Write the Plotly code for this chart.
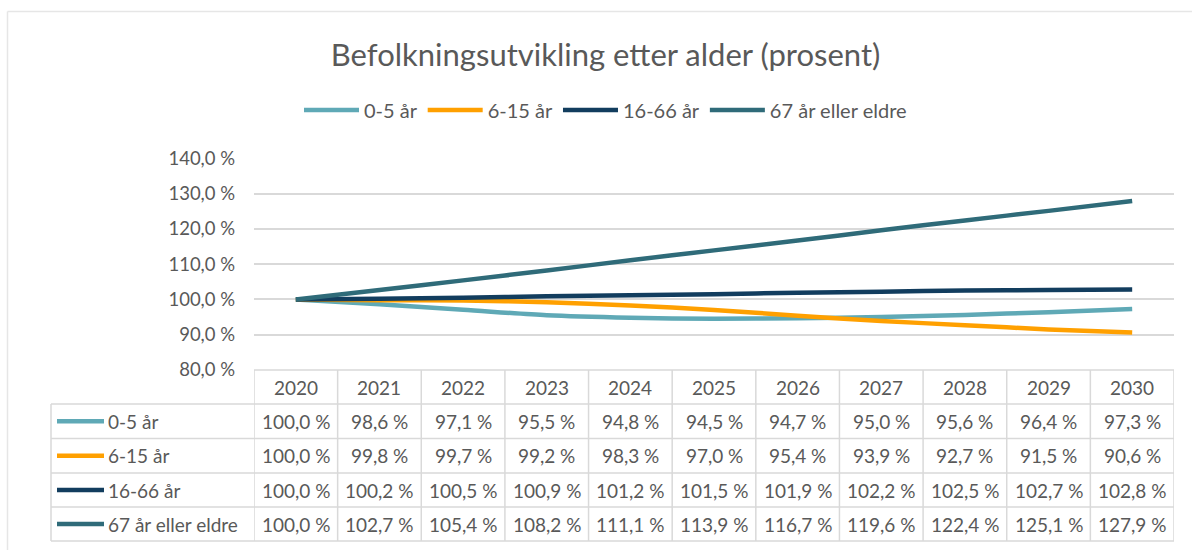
import plotly.graph_objects as go

years = [2020, 2021, 2022, 2023, 2024, 2025, 2026, 2027, 2028, 2029, 2030]
series_names = ["0-5 år", "6-15 år", "16-66 år", "67 år eller eldre"]
v_0_5 = [100.0, 98.6, 97.1, 95.5, 94.8, 94.5, 94.7, 95.0, 95.6, 96.4, 97.3]
v_6_15 = [100.0, 99.8, 99.7, 99.2, 98.3, 97.0, 95.4, 93.9, 92.7, 91.5, 90.6]
v_16_66 = [100.0, 100.2, 100.5, 100.9, 101.2, 101.5, 101.9, 102.2, 102.5, 102.7, 102.8]
v_67 = [100.0, 102.7, 105.4, 108.2, 111.1, 113.9, 116.7, 119.6, 122.4, 125.1, 127.9]
y_ticks = [80, 90, 100, 110, 120, 130, 140]
title_text = "Befolkningsutvikling etter alder (prosent)"

colors = ["#5fa9b6", "#ffa000", "#123d5e", "#2f6b79"]
all_values = [v_0_5, v_6_15, v_16_66, v_67]

W, H = 1192, 550
FONT = "Lato"
TXT = "#595959"
GRID = "#d9d9d9"
TABLE_FS = 19
TICK_FS = 18.5

def fmt(v):
    return f"{v:.1f}".replace(".", ",") + "\u202f%"

def py(p):
    return 1 - p / H

def px(p):
    return p / W

fig = go.Figure()
for name, vals, col in zip(series_names, all_values, colors):
    fig.add_trace(go.Scatter(
        x=years, y=vals, name=name, mode="lines",
        line=dict(color=col, width=4.5, shape="spline", smoothing=0.8),
    ))

plot_left, plot_right = 254, 1174
y_top, y_bottom = 158.3, 370
row_edges = [370, 404, 438.5, 473, 507, 541]

shapes = []
annotations = []
# outer chart border (top and left visible)
shapes.append(dict(type="line", xref="paper", yref="paper", x0=px(7.5), x1=1.0, y0=py(11.5), y1=py(11.5), line=dict(color="#e6e6e6", width=1.5)))
shapes.append(dict(type="line", xref="paper", yref="paper", x0=px(7.5), x1=px(7.5), y0=py(11.5), y1=0, line=dict(color="#e6e6e6", width=1.5)))

# table horizontal lines
shapes.append(dict(type="line", xref="paper", yref="paper", x0=px(plot_left), x1=px(plot_right), y0=py(row_edges[0]), y1=py(row_edges[0]), line=dict(color=GRID, width=1.5)))
for r in row_edges[1:]:
    shapes.append(dict(type="line", xref="paper", yref="paper", x0=px(51), x1=px(plot_right), y0=py(r), y1=py(r), line=dict(color=GRID, width=1.5)))
# table vertical lines (column boundaries via x axis scale)
for i in range(len(years) + 1):
    xb = years[0] - 0.5 + i
    shapes.append(dict(type="line", xref="x", yref="paper", x0=xb, x1=xb, y0=py(row_edges[0]), y1=py(row_edges[-1]), line=dict(color=GRID, width=1.5)))
shapes.append(dict(type="line", xref="paper", yref="paper", x0=px(51), x1=px(51), y0=py(row_edges[1]), y1=py(row_edges[-1]), line=dict(color=GRID, width=1.5)))

# header years
for yr in years:
    annotations.append(dict(x=yr, xref="x", y=py((row_edges[0] + row_edges[1]) / 2), yref="paper",
                            text=str(yr), showarrow=False, font=dict(family=FONT, size=TABLE_FS, color=TXT),
                            xanchor="center", yanchor="middle"))
# rows
for ri, (name, vals, col) in enumerate(zip(series_names, all_values, colors)):
    yc = py((row_edges[ri + 1] + row_edges[ri + 2]) / 2)
    shapes.append(dict(type="line", xref="paper", yref="paper", x0=px(57), x1=px(104), y0=yc, y1=yc,
                       line=dict(color=col, width=4.5)))
    annotations.append(dict(x=px(106), xref="paper", y=yc, yref="paper", text=name, showarrow=False,
                            font=dict(family=FONT, size=TABLE_FS, color=TXT), xanchor="left", yanchor="middle"))
    for yr, v in zip(years, vals):
        annotations.append(dict(x=yr, xref="x", y=yc, yref="paper", text=fmt(v), showarrow=False,
                                font=dict(family=FONT, size=TABLE_FS, color=TXT), xanchor="center", yanchor="middle"))

fig.update_layout(
    width=W, height=H, autosize=False,
    margin=dict(l=0, r=0, t=0, b=0, pad=0, autoexpand=False),
    paper_bgcolor="white", plot_bgcolor="white",
    font=dict(family=FONT, color=TXT),
    title=dict(text=title_text, x=0.508, xanchor="center", y=py(55), yanchor="middle",
               font=dict(family=FONT, size=31, color=TXT)),
    legend=dict(orientation="h", x=px(299), xanchor="left", y=py(110), yanchor="middle",
                font=dict(family=FONT, size=20, color=TXT), traceorder="normal",
                itemwidth=55),
    xaxis=dict(domain=[px(plot_left), px(plot_right)], range=[years[0] - 0.5, years[-1] + 0.5],
               showticklabels=False, showgrid=False, zeroline=False, showline=False, fixedrange=True,
               automargin=False),
    yaxis=dict(domain=[py(y_bottom), py(y_top)], range=[y_ticks[0], y_ticks[-1]],
               tickvals=y_ticks, ticktext=[fmt(t) for t in y_ticks],
               showgrid=True, gridcolor=GRID, gridwidth=1.5, zeroline=False, showline=False,
               tickfont=dict(family=FONT, size=TICK_FS, color=TXT), ticklabelstandoff=18,
               automargin=False, fixedrange=True),
    shapes=shapes, annotations=annotations,
)

fig.write_html("out.html", config={"displayModeBar": False},
               post_script="document.body.style.margin='0';document.body.style.overflow='hidden';")
